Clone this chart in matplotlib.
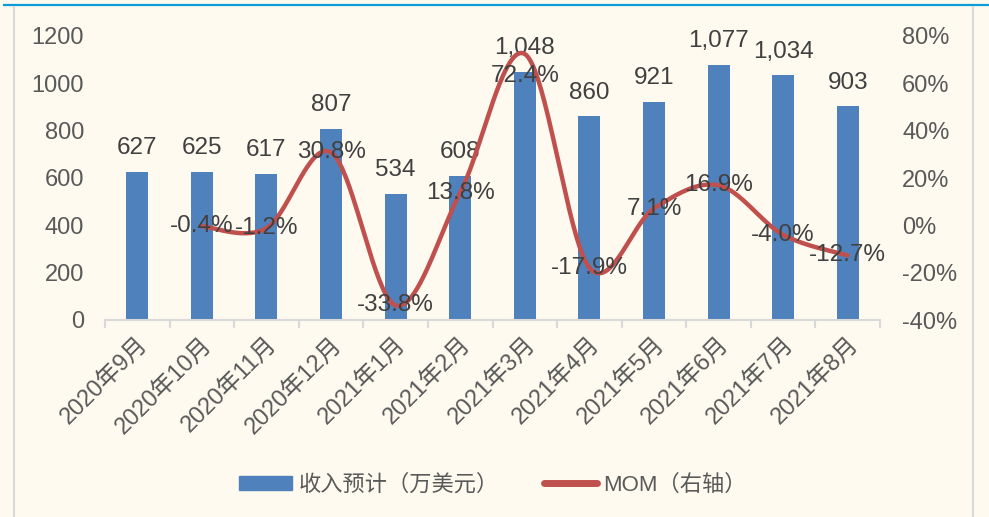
import numpy as np
import matplotlib
matplotlib.use("Agg")
import matplotlib.pyplot as plt
from matplotlib.lines import Line2D
from matplotlib.ticker import FixedLocator, FuncFormatter

plt.rcParams["font.family"] = ["Liberation Sans", "Noto Sans CJK SC", "DejaVu Sans"]

months = ["2020年9月", "2020年10月", "2020年11月", "2020年12月", "2021年1月", "2021年2月",
          "2021年3月", "2021年4月", "2021年5月", "2021年6月", "2021年7月", "2021年8月"]
revenue = [627, 625, 617, 807, 534, 608, 1048, 860, 921, 1077, 1034, 903]
mom = [np.nan, -0.4, -1.2, 30.8, -33.8, 13.8, 72.4, -17.9, 7.1, 16.9, -4.0, -12.7]

BAR_COLOR = "#4F81BD"
LINE_COLOR = "#C0504D"
BG = "#FEFAF0"
TEXT = "#404040"
TICK = "#595959"
GRID = "#D9D9D9"

W, H = 989, 517
fig = plt.figure(figsize=(W / 100, H / 100), dpi=100, facecolor=BG)

# frame lines around the picture
fig.add_artist(Line2D([4 / W, 1], [1 - 5 / H] * 2, color="#0E9CD8", lw=1.6))
fig.add_artist(Line2D([14 / W] * 2, [0, 1 - 7 / H], color=GRID, lw=1.5))
fig.add_artist(Line2D([973 / W] * 2, [0, 1 - 7 / H], color=GRID, lw=1.5))

ax = fig.add_axes([105 / W, 1 - 320 / H, (880 - 105) / W, (320 - 36) / H])
ax.set_facecolor(BG)
x = np.arange(len(months))

ax.bar(x, revenue, width=0.34, color=BAR_COLOR, zorder=2)
ax.set_xlim(-0.5, len(months) - 0.5)
ax.set_ylim(0, 1200)
ax.set_yticks(range(0, 1201, 200))
ax.tick_params(axis="y", length=0, pad=15, labelsize=17, labelcolor=TICK)

ax.xaxis.set_major_locator(FixedLocator(x))
ax.xaxis.set_minor_locator(FixedLocator(np.arange(-0.5, len(months), 1.0)))
ax.set_xticklabels(months, rotation=45, ha="right", va="top", rotation_mode="anchor",
                   fontsize=17, color=TICK)
ax.tick_params(axis="x", which="major", length=0, pad=10)
ax.tick_params(axis="x", which="minor", length=6, width=1.5, color=GRID)

for s in ["top", "left", "right"]:
    ax.spines[s].set_visible(False)
ax.spines["bottom"].set_color(GRID)
ax.spines["bottom"].set_linewidth(1.5)

for xi, v in zip(x, revenue):
    ax.annotate(f"{v:,}", (xi, v), xytext=(0, 17), textcoords="offset points",
                ha="center", va="center", fontsize=17.5, color=TEXT, zorder=5)

# right axis: smoothed MOM line
ax2 = ax.twinx()
ax2.set_ylim(-40, 80)
ax2.set_yticks(range(-40, 81, 20))
ax2.yaxis.set_major_formatter(FuncFormatter(lambda v, p: f"{int(v)}%"))
ax2.tick_params(axis="y", length=0, pad=16, labelsize=17, labelcolor=TICK)
for s in ["top", "left", "right", "bottom"]:
    ax2.spines[s].set_visible(False)

mx = x[1:].astype(float)
my = np.array(mom[1:])
px = np.concatenate([[mx[0]], mx, [mx[-1]]])
py = np.concatenate([[my[0]], my, [my[-1]]])
t = np.linspace(0, 1, 40)
cx, cy = [], []
for i in range(1, len(px) - 2):
    p0 = np.array([px[i], py[i]])
    p3 = np.array([px[i + 1], py[i + 1]])
    p1 = p0 + (np.array([px[i + 1], py[i + 1]]) - np.array([px[i - 1], py[i - 1]])) / 6
    p2 = p3 - (np.array([px[i + 2], py[i + 2]]) - np.array([px[i], py[i]])) / 6
    seg = ((1 - t) ** 3)[:, None] * p0 + (3 * (1 - t) ** 2 * t)[:, None] * p1 \
        + (3 * (1 - t) * t ** 2)[:, None] * p2 + (t ** 3)[:, None] * p3
    cx.extend(seg[:, 0])
    cy.extend(seg[:, 1])
ax2.plot(cx, cy, color=LINE_COLOR, lw=3.2, solid_capstyle="round", zorder=3)

for xi, v in zip(mx, my):
    dy = -16 if v > 70 else 0
    ax2.annotate(f"{v:.1f}%", (xi, v), xytext=(0, dy), textcoords="offset points",
                 ha="center", va="center", fontsize=17.5, color=TEXT, zorder=5)

handles = [plt.Rectangle((0, 0), 1, 1, color=BAR_COLOR),
           Line2D([0], [0], color=LINE_COLOR, lw=5, solid_capstyle="round")]
fig.legend(handles, ["收入预计（万美元）", "MOM（右轴）"], loc="center",
           bbox_to_anchor=(493 / W, 1 - 485 / H), ncol=2, frameon=False,
           fontsize=16, labelcolor=TICK, handlelength=2.4, handletextpad=0.3,
           columnspacing=2.0, handleheight=0.6)

fig.savefig("out.png", dpi=100, facecolor=BG)
